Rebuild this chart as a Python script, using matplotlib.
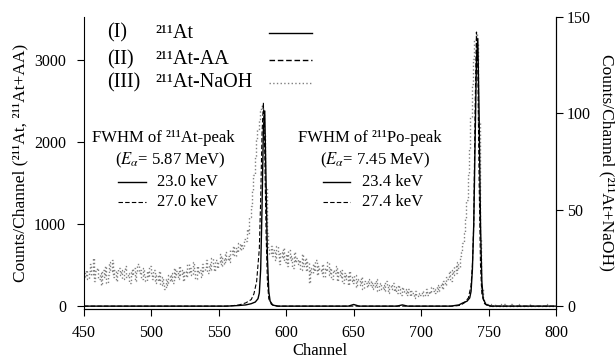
import matplotlib.pyplot as plt
import numpy as np

plt.rcParams['font.family'] = ['Liberation Serif', 'DejaVu Serif']
plt.rcParams['mathtext.fontset'] = 'stix'

# (I) 211At  -- counts per channel (left axis)
at_ch = [450, 556, 565, 570, 574, 577, 579, 580, 581, 582,
         583, 584, 585, 586, 587, 588, 590, 594, 646, 650, 654,
         682, 686, 690, 722, 728, 731, 734, 736, 737, 738, 739, 740, 741,
         742, 743, 744, 745, 746, 748, 752, 800]
at_cnt = [0, 0, 8, 15, 30, 50, 90, 160, 450, 1200,
          2150, 2380, 1500, 600, 180, 60, 12, 0, 0, 20, 0,
          0, 15, 0, 0, 15, 40, 60, 100, 180, 450, 1000, 2000, 3000,
          3260, 2300, 1000, 300, 90, 20, 0, 0]

# (II) 211At-AA (left axis)
aa_ch = [450, 555, 560, 565, 570, 574, 576, 578, 580, 581,
         582, 583, 584, 585, 586, 587, 589, 593,
         724, 729, 732, 735, 737, 738, 739, 740, 741, 742,
         743, 744, 745, 747, 750, 800]
aa_cnt = [0, 0, 5, 15, 40, 80, 150, 300, 700, 1300,
          2100, 2480, 1900, 900, 300, 90, 20, 0,
          0, 10, 40, 100, 250, 500, 1000, 2400, 3340, 2900,
          1500, 500, 150, 30, 0, 0]

# (III) 211At-NaOH, one value per channel 450..800 (right axis)
naoh_ch = np.arange(450, 801)
naoh_cnt = [
    17, 15, 19, 14, 18, 22, 16, 25, 13, 18,
    20, 14, 17, 11, 19, 15, 21, 12, 16, 23,
    18, 24, 15, 19, 13, 17, 20, 16, 19, 14,
    18, 21, 15, 17, 12, 19, 16, 20, 13, 18,
    22, 17, 19, 14, 20, 16, 13, 18, 15, 21,
    17, 14, 19, 12, 16, 13, 18, 11, 15, 12,
    9, 14, 11, 16, 13, 17, 12, 20, 15, 18,
    14, 21, 16, 19, 13, 18, 15, 22, 17, 20,
    16, 23, 18, 14, 21, 17, 19, 15, 22, 18,
    20, 24, 17, 22, 19, 25, 21, 18, 24, 20,
    23, 27, 21, 25, 22, 28, 24, 26, 23, 29,
    27, 31, 26, 30, 28, 33, 29, 32, 30, 35,
    34, 40, 38, 46, 52, 60, 68, 78, 86, 92,
    97, 101, 104, 102, 90, 62, 38, 30, 27, 31,
    26, 29, 24, 31, 27, 22, 28, 25, 30, 23,
    27, 21, 29, 24, 26, 20, 28, 23, 25, 22,
    24, 19, 27, 21, 25, 18, 23, 12, 20, 17,
    22, 18, 24, 16, 21, 19, 17, 22, 15, 20,
    18, 23, 16, 20, 14, 19, 17, 21, 13, 18,
    15, 19, 12, 17, 14, 16, 11, 18, 13, 15,
    12, 16, 10, 14, 13, 11, 15, 9, 13, 12,
    10, 14, 11, 13, 9, 12, 10, 14, 8, 11,
    12, 9, 11, 8, 13, 10, 7, 11, 9, 12,
    8, 10, 7, 11, 9, 6, 10, 8, 7, 9,
    6, 9, 5, 8, 7, 4, 8, 6, 5, 7,
    6, 8, 5, 7, 9, 6, 8, 7, 10, 8,
    9, 7, 11, 8, 10, 12, 9, 13, 11, 15,
    14, 18, 13, 19, 16, 21, 17, 23, 20, 26,
    28, 33, 38, 45, 55, 68, 82, 98, 115, 128,
    138, 142, 136, 95, 35, 9, 3, 2, 1, 1,
    1, 0, 1, 0, 0, 1, 0, 0, 0, 1,
    0, 0, 1, 0, 0, 0, 0, 1, 0, 0,
    0, 0, 0, 1, 0, 0, 0, 0, 0, 0,
    0, 1, 0, 0, 0, 0, 0, 0, 0, 0,
    0, 0, 0, 1, 0, 0, 0, 0, 0, 0,
    0]

fig = plt.figure(figsize=(6.15, 3.58), dpi=100)
ax = fig.add_axes([0.1366, 0.138, 0.7675, 0.8145])
ax2 = ax.twinx()

ax2.plot(naoh_ch, naoh_cnt, color='#808080', ls=':', lw=1.0, drawstyle='steps-mid')
ax.plot(at_ch, at_cnt, color='black', ls='-', lw=1.0)
ax.plot(aa_ch, aa_cnt, color='black', ls=(0, (4, 2)), lw=0.8)

ax.set_zorder(ax2.get_zorder() + 1)
ax.patch.set_visible(False)

ax.set_xlim(450, 800)
ax.set_ylim(-30, 3524)
ax2.set_ylim(-1.28, 150)
ax.set_xticks([450, 500, 550, 600, 650, 700, 750, 800])
ax.set_yticks([0, 1000, 2000, 3000])
ax2.set_yticks([0, 50, 100, 150])

for a in (ax, ax2):
    a.spines['top'].set_visible(False)
    a.tick_params(direction='out', length=5, labelsize=11.5)
ax.tick_params(axis='y', pad=8)
ax.tick_params(axis='x', pad=7)
ax2.tick_params(axis='y', pad=3)
ax2.spines['left'].set_visible(False)

ax.set_xlabel('Channel', fontsize=12, labelpad=1)
ax.set_ylabel('Counts/Channel (²¹¹At, ²¹¹At+AA)', fontsize=12.5, labelpad=4)
ax2.set_ylabel('Counts/Channel (²¹¹At+NaOH)', fontsize=12.5, rotation=-90, labelpad=17)

# legend drawn by hand
rows = [(3329, '(I)', '²¹¹At', '-'),
        (3000, '(II)', '²¹¹At-AA', (0, (4, 2))),
        (2720, '(III)', '²¹¹At-NaOH', ':')]
for y, num, name, ls in rows:
    ax.text(467, y, num, fontsize=14.5, va='center')
    ax.text(503, y, name, fontsize=14.5, va='center')
    col = '#808080' if ls == ':' else 'black'
    ax.plot([587, 619], [y, y], color=col, ls=ls, lw=1.0)

# FWHM notes
ax.text(456, 2049, 'FWHM of ²¹¹At-peak', fontsize=12, va='center')
ax.text(473, 1780, r'($E_{\alpha}$= 5.87 MeV)', fontsize=12, va='center')
ax.plot([475, 496], [1512, 1512], color='black', lw=1.0)
ax.text(504, 1512, '23.0 keV', fontsize=12, va='center')
ax.plot([475, 496], [1268, 1268], color='black', ls=(0, (4, 2)), lw=0.8)
ax.text(504, 1268, '27.0 keV', fontsize=12, va='center')

ax.text(609, 2049, 'FWHM of ²¹¹Po-peak', fontsize=12, va='center')
ax.text(625, 1780, r'($E_{\alpha}$= 7.45 MeV)', fontsize=12, va='center')
ax.plot([627, 647], [1512, 1512], color='black', lw=1.0)
ax.text(656, 1512, '23.4 keV', fontsize=12, va='center')
ax.plot([627, 647], [1268, 1268], color='black', ls=(0, (4, 2)), lw=0.8)
ax.text(656, 1268, '27.4 keV', fontsize=12, va='center')

fig.savefig('out.png', dpi=100)
